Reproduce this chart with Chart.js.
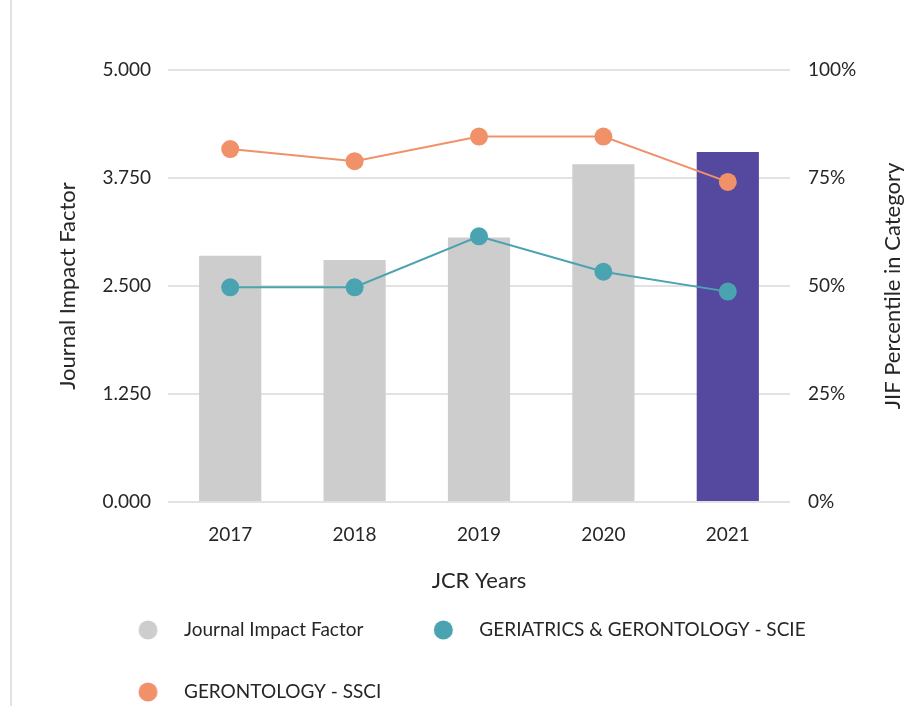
<!DOCTYPE html>
<html>
<head>
<meta charset="utf-8">
<script src="https://cdn.jsdelivr.net/npm/chart.js@4/dist/chart.umd.min.js"></script>
<style>
  body { margin: 0; background: #fff; }
  #wrap { position: relative; width: 910px; height: 714px; }
  #edge { position: absolute; left: 10px; top: 0; width: 2px; height: 706px; background: #e2e2e2; }
</style>
</head>
<body>
<div id="wrap">
  <div id="edge"></div>
  <canvas id="jcr-chart" width="910" height="714"></canvas>
</div>
<script>
// Dados
const anos = ['2017', '2018', '2019', '2020', '2021'];
const fatorImpacto = [2.85, 2.80, 3.06, 3.91, 4.05];
const geriatriaScie = [49.7, 49.7, 61.5, 53.3, 48.7];
const gerontologiaSsci = [81.7, 78.9, 84.6, 84.6, 74.1];
const ticksEsquerda = [0, 1.25, 2.5, 3.75, 5];
const ticksDireita = [0, 25, 50, 75, 100];

const corCinza = '#cccdcc';
const corRoxo = '#54499e';
const corTeal = '#4aa3b0';
const corLaranja = '#f0916a';
const corTexto = '#262626';
const fonte = 'Lato';

// Ajustes da legenda
const legendPad = 43;
const legendBoxW = 63.5;
const legendDot = 5.25;
const legendShiftX = 17.2;
const legendShiftY = -20.5;

// Bolinha da legenda desenhada num canvas pequeno
function bolinha(cor) {
    const c = document.createElement('canvas');
    c.width = 60;
    c.height = 20;
    const g = c.getContext('2d');
    g.fillStyle = cor;
    g.beginPath();
    g.arc(30 + legendDot, 10, 9.5, 0, Math.PI * 2);
    g.fill();
    return c;
}

// Desloca a legenda (só o topo, para o recorte não cortar a 2a linha)
const moverLegenda = {
    id: 'moverLegenda',
    afterLayout(chart) {
        const lg = chart.legend;
        lg.left += legendShiftX;
        lg.right += legendShiftX;
        lg.top += legendShiftY;
    }
};

// Título do eixo direito, lido de baixo para cima
const tituloDireita = {
    id: 'tituloDireita',
    afterDraw(chart) {
        const s = chart.scales.y1;
        const area = chart.chartArea;
        const ctx = chart.ctx;
        ctx.save();
        ctx.translate(s.right - 17, (area.top + area.bottom) / 2);
        ctx.rotate(-Math.PI / 2);
        ctx.font = '22px ' + fonte;
        ctx.fillStyle = corTexto;
        ctx.textAlign = 'center';
        ctx.textBaseline = 'middle';
        ctx.fillText('JIF Percentile in Category', 0, 0);
        ctx.restore();
    }
};

const ctx = document.getElementById('jcr-chart').getContext('2d');
new Chart(ctx, {
    data: {
        labels: anos,
        datasets: [
            {
                type: 'bar',
                label: 'Journal Impact Factor',
                data: fatorImpacto,
                backgroundColor: anos.map((a, i) => i === anos.length - 1 ? corRoxo : corCinza),
                barPercentage: 0.5,
                categoryPercentage: 1.0,
                yAxisID: 'y',
                order: 2
            },
            {
                type: 'line',
                label: 'GERIATRICS & GERONTOLOGY - SCIE',
                data: geriatriaScie,
                borderColor: corTeal,
                backgroundColor: corTeal,
                borderWidth: 2,
                pointRadius: 9,
                pointBorderWidth: 0,
                yAxisID: 'y1',
                order: 1
            },
            {
                type: 'line',
                label: 'GERONTOLOGY - SSCI',
                data: gerontologiaSsci,
                borderColor: corLaranja,
                backgroundColor: corLaranja,
                borderWidth: 2,
                pointRadius: 9,
                pointBorderWidth: 0,
                yAxisID: 'y1',
                order: 0
            }
        ]
    },
    options: {
        responsive: false,
        animation: false,
        layout: { padding: { left: 50.8, right: 0, top: 70, bottom: 0 } },
        plugins: {
            tooltip: { enabled: false },
            legend: {
                position: 'bottom',
                align: 'start',
                maxHeight: 116,
                labels: {
                    usePointStyle: true,
                    pointStyleWidth: legendBoxW,
                    padding: legendPad,
                    color: corTexto,
                    font: { family: fonte, size: 19 },
                    sort: (a, b) => a.datasetIndex - b.datasetIndex,
                    generateLabels(chart) {
                        const itens = Chart.defaults.plugins.legend.labels.generateLabels(chart);
                        itens.forEach(item => {
                            item.pointStyle = bolinha(item.fillStyle);
                        });
                        return itens;
                    }
                }
            }
        },
        scales: {
            x: {
                grid: { display: false },
                border: { display: false },
                ticks: { color: corTexto, font: { family: fonte, size: 19 }, padding: 13 },
                title: { display: true, text: 'JCR Years', color: corTexto, font: { family: fonte, size: 22 } },
                afterFit(scale) { scale.height = 96; }
            },
            y: {
                position: 'left',
                min: 0,
                max: 5,
                grid: { color: '#e2e2e2', lineWidth: 2, drawTicks: false },
                border: { display: false },
                ticks: {
                    color: corTexto,
                    font: { family: fonte, size: 19 },
                    padding: 17,
                    stepSize: 1.25,
                    callback: v => ticksEsquerda.includes(v) ? v.toFixed(3) : ''
                },
                title: { display: true, text: 'Journal Impact Factor', color: corTexto, font: { family: fonte, size: 22 }, padding: { top: 4, bottom: 4 } },
                afterFit(scale) { scale.width = 117.2; }
            },
            y1: {
                position: 'right',
                min: 0,
                max: 100,
                grid: { display: false, drawTicks: false },
                border: { display: false },
                ticks: {
                    color: corTexto,
                    font: { family: fonte, size: 19 },
                    padding: 18,
                    stepSize: 25,
                    callback: v => ticksDireita.includes(v) ? v + '%' : ''
                },
                afterFit(scale) { scale.width = 120; }
            }
        }
    },
    plugins: [moverLegenda, tituloDireita]
});
</script>
</body>
</html>
